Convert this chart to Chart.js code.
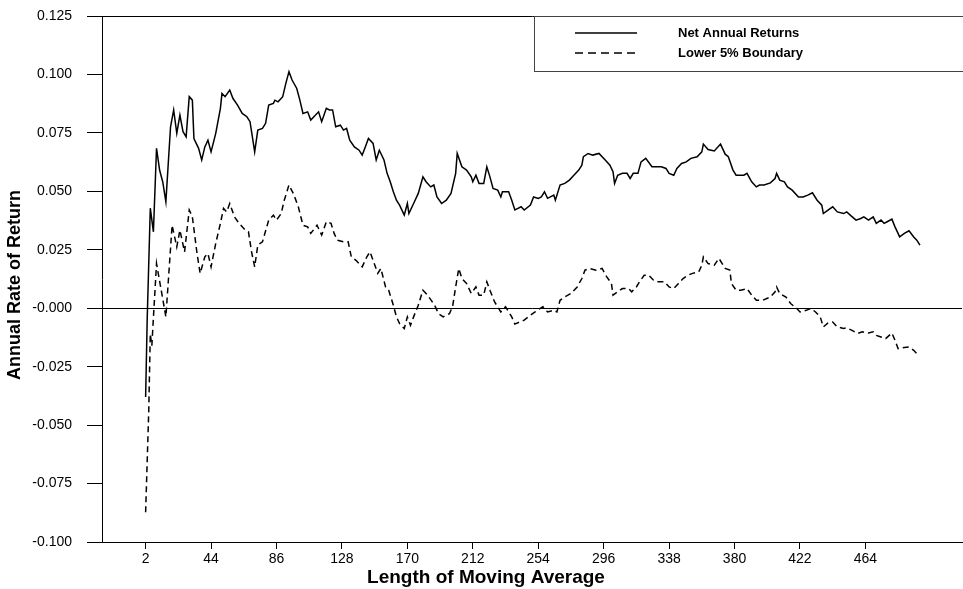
<!DOCTYPE html>
<html>
<head>
<meta charset="utf-8">
<script src="https://cdn.jsdelivr.net/npm/chart.js@4.4.1/dist/chart.umd.min.js"></script>
<style>
  body { margin: 0; background: #fff; overflow: hidden; }
  #wrap { width: 963px; height: 589px; }
</style>
</head>
<body>
<div id="wrap"><canvas id="chart" width="963" height="589"></canvas></div>
<script>
// moving average lengths and returns
const netX = [2,3,5,7,9,11,13,15,18,20,22,24,26,28,30,32,33,36,38,40,42,44,47,50,51,53,56,58,61,64,67,69,70,72,74,77,79,81,84,85,87,90,92,94,96,99,101,103,106,108,110,113,115,118,120,122,124,127,129,131,133,136,139,141,143,145,148,150,152,155,157,159,161,163,165,168,170,171,174,177,180,182,185,187,189,192,195,198,201,202,205,208,211,212,214,216,219,221,223,225,228,230,231,233,235,237,239,241,243,245,249,251,254,256,258,260,264,265,268,271,274,276,280,282,283,286,289,293,297,300,302,303,305,308,311,313,315,318,320,323,327,330,333,336,338,341,343,346,349,352,356,359,360,363,367,371,374,376,379,381,386,388,391,394,396,399,403,406,407,409,412,414,417,421,424,427,430,433,436,437,440,443,446,450,452,455,458,461,463,466,469,471,474,476,478,481,483,486,489,492,495,497,499];
const netY = [-0.038,-0.005,0.0428,0.0327,0.0684,0.059,0.054,0.0455,0.0776,0.0848,0.0748,0.0826,0.0755,0.0733,0.0905,0.089,0.0726,0.0684,0.0634,0.069,0.0719,0.0669,0.0748,0.0855,0.0919,0.0905,0.0933,0.0898,0.0869,0.0833,0.0819,0.0798,0.0755,0.0669,0.0762,0.0769,0.0791,0.0869,0.0876,0.089,0.0883,0.0905,0.0962,0.1012,0.0976,0.094,0.089,0.0833,0.084,0.0805,0.0819,0.084,0.0798,0.0855,0.0848,0.0848,0.0776,0.0783,0.0762,0.0769,0.0719,0.069,0.0676,0.0655,0.069,0.0726,0.0705,0.0634,0.0676,0.0634,0.0577,0.0541,0.0498,0.0462,0.0441,0.0398,0.0448,0.0405,0.0448,0.0491,0.0562,0.0541,0.0519,0.0527,0.0476,0.0448,0.0462,0.0491,0.0577,0.0662,0.0605,0.0591,0.0562,0.0541,0.0569,0.0534,0.0534,0.0605,0.0562,0.0512,0.0505,0.0476,0.0498,0.0498,0.0498,0.0462,0.042,0.0427,0.0434,0.042,0.0441,0.0476,0.047,0.0476,0.0498,0.047,0.0484,0.0462,0.0527,0.0534,0.0548,0.0562,0.0591,0.0612,0.0648,0.0662,0.0655,0.0662,0.0634,0.0612,0.0584,0.0534,0.0569,0.0577,0.0577,0.0555,0.0577,0.0577,0.0626,0.0641,0.0605,0.0605,0.0605,0.0598,0.0577,0.0569,0.0598,0.0619,0.0626,0.0641,0.0648,0.0669,0.0702,0.0679,0.0673,0.0702,0.0659,0.0648,0.0591,0.0569,0.0569,0.0577,0.0541,0.0519,0.0527,0.0527,0.0536,0.0555,0.0577,0.0548,0.0541,0.0519,0.0505,0.0476,0.0476,0.0484,0.0494,0.0462,0.0441,0.0405,0.042,0.0434,0.0412,0.0405,0.0412,0.0394,0.0377,0.0384,0.0391,0.0377,0.0391,0.0363,0.0377,0.0363,0.037,0.0381,0.0348,0.0305,0.032,0.0331,0.0305,0.0291,0.027];

const lowX = [2,4,5,6,7,9,12,15,19,22,24,27,30,32,35,37,40,42,44,47,50,52,54,56,59,62,66,68,70,72,74,77,81,84,86,89,91,94,97,100,103,106,108,112,115,118,121,123,125,129,132,134,137,141,144,146,148,151,153,156,158,161,163,165,168,170,172,174,177,180,183,186,188,190,193,197,199,201,203,205,208,211,214,216,219,221,223,226,230,233,237,239,242,245,249,252,254,257,260,264,266,268,271,275,279,282,284,287,291,295,298,301,302,305,308,312,314,317,319,322,325,328,331,335,338,341,344,347,350,353,357,359,360,363,367,370,374,377,378,381,384,388,391,394,398,403,406,407,409,413,416,420,422,426,429,432,435,437,440,443,446,450,452,456,459,462,466,469,471,474,477,481,483,485,489,492,495,497,498];
const lowY = [-0.0873,-0.044,-0.011,-0.016,-0.004,0.0191,0.0077,-0.0037,0.0355,0.0262,0.0334,0.0241,0.042,0.0391,0.0234,0.0149,0.022,0.0234,0.0177,0.0277,0.0363,0.0427,0.0412,0.0448,0.0391,0.0363,0.0334,0.0327,0.0241,0.0177,0.027,0.0284,0.0377,0.0398,0.0377,0.0405,0.0462,0.0527,0.0488,0.0434,0.0355,0.0348,0.032,0.0355,0.0313,0.037,0.0363,0.032,0.0291,0.0284,0.0284,0.022,0.0205,0.0177,0.022,0.0241,0.0205,0.0149,0.017,0.0091,0.0077,0.0013,-0.0037,-0.0066,-0.0087,-0.0037,-0.0073,-0.0037,0.0013,0.0077,0.0056,0.0027,0.0006,-0.0023,-0.0037,-0.0023,0.0006,0.0091,0.017,0.0127,0.0106,0.0063,0.0091,0.0056,0.0056,0.0113,0.0077,0.0027,-0.0016,0.0006,-0.0037,-0.0068,-0.0059,-0.0051,-0.003,-0.0016,-0.0006,0.0006,-0.0016,-0.0009,-0.0016,0.0034,0.0048,0.0063,0.0091,0.0127,0.0163,0.017,0.0163,0.017,0.0134,0.0106,0.0056,0.007,0.0084,0.0084,0.007,0.0091,0.0113,0.0141,0.0141,0.012,0.0113,0.0113,0.0091,0.0084,0.0106,0.0127,0.0141,0.0149,0.0155,0.0184,0.022,0.0191,0.0184,0.0213,0.017,0.0163,0.0106,0.0077,0.0077,0.0084,0.0056,0.0034,0.0034,0.0048,0.007,0.0091,0.0063,0.0048,0.002,-0.0001,-0.0016,-0.0009,-0.0001,-0.0016,-0.0037,-0.008,-0.0063,-0.0059,-0.008,-0.0087,-0.0084,-0.0097,-0.0108,-0.0101,-0.0106,-0.0101,-0.0116,-0.0123,-0.013,-0.0106,-0.0137,-0.0173,-0.0168,-0.0166,-0.018,-0.0194,-0.0205];

const xTicks = [2,44,86,128,170,212,254,296,338,380,422,464];
const yTicks = [-0.1,-0.075,-0.05,-0.025,0,0.025,0.05,0.075,0.1,0.125];
const yTickLabels = ['-0.100','-0.075','-0.050','-0.025','-0.000','0.025','0.050','0.075','0.100','0.125'];
const seriesNames = ['Net Annual Returns','Lower 5% Boundary'];
const xTitle = 'Length of Moving Average';
const yTitle = 'Annual Rate of Return';

const FONT = '"Liberation Sans", Arial, Helvetica, sans-serif';

const pts = (xs, ys) => xs.map((x, i) => ({ x: x, y: ys[i] }));

// legend box + axis titles drawn by hand
const extras = {
  id: 'extras',
  afterDraw(chart) {
    const c = chart.ctx;
    const top = chart.chartArea.top;
    c.save();
    c.fillStyle = '#fff';
    c.fillRect(535, top + 1, 430, 54);
    c.strokeStyle = '#444';
    c.lineWidth = 1;
    c.strokeRect(534.5, top + 0.5, 440, 55);

    c.strokeStyle = '#000';
    c.lineWidth = 1.4;
    c.beginPath(); c.moveTo(575, 33); c.lineTo(637, 33); c.stroke();
    c.setLineDash([8, 5]);
    c.beginPath(); c.moveTo(575, 53); c.lineTo(637, 53); c.stroke();
    c.setLineDash([]);

    c.fillStyle = '#000';
    c.font = 'bold 13px ' + FONT;
    c.textBaseline = 'middle';
    c.textAlign = 'left';
    c.fillText(seriesNames[0], 678, 33);
    c.fillText(seriesNames[1], 678, 53);

    c.textAlign = 'center';
    c.font = 'bold 19px ' + FONT;
    c.fillText(xTitle, 486, 578);
    c.translate(15, 285);
    c.rotate(-Math.PI / 2);
    c.font = 'bold 18px ' + FONT;
    c.fillText(yTitle, 0, 0);
    c.restore();
  }
};

new Chart(document.getElementById('chart'), {
  type: 'line',
  data: {
    datasets: [{
      label: seriesNames[0],
      data: pts(netX, netY),
      borderColor: '#000',
      borderWidth: 1.5,
      pointRadius: 0,
      tension: 0
    }, {
      label: seriesNames[1],
      data: pts(lowX, lowY),
      borderColor: '#000',
      borderWidth: 1.5,
      borderDash: [6, 4],
      pointRadius: 0,
      tension: 0
    }]
  },
  options: {
    responsive: false,
    animation: false,
    layout: { padding: { left: 0, top: 16, right: 1, bottom: 0 } },
    plugins: { legend: { display: false }, tooltip: { enabled: false } },
    scales: {
      x: {
        type: 'linear',
        min: -26,
        max: 526,
        afterBuildTicks: s => { s.ticks = xTicks.map(v => ({ value: v })); },
        afterFit: s => { s.height = 47; s.paddingLeft = 0; s.paddingRight = 0; },
        ticks: {
          color: '#000',
          padding: 2,
          maxRotation: 0,
          autoSkip: false,
          font: { family: FONT, size: 14 },
          callback: v => String(v)
        },
        grid: { drawOnChartArea: false, tickLength: 7, tickColor: '#000' },
        border: { color: '#000', width: 1 }
      },
      y: {
        min: -0.1,
        max: 0.125,
        afterBuildTicks: s => { s.ticks = yTicks.map(v => ({ value: v })); },
        afterFit: s => { s.width = 102; s.paddingTop = 0; s.paddingBottom = 0; },
        ticks: {
          color: '#000',
          padding: 15,
          autoSkip: false,
          font: { family: FONT, size: 14 },
          callback: (v, i) => yTickLabels[i]
        },
        grid: {
          tickLength: 15,
          tickColor: '#000',
          color: ctx => (ctx.tick && (ctx.tick.value === 0 || ctx.tick.value === 0.125)) ? '#000' : 'rgba(0,0,0,0)'
        },
        border: { color: '#000', width: 1 }
      }
    }
  },
  plugins: [extras]
});
</script>
</body>
</html>
